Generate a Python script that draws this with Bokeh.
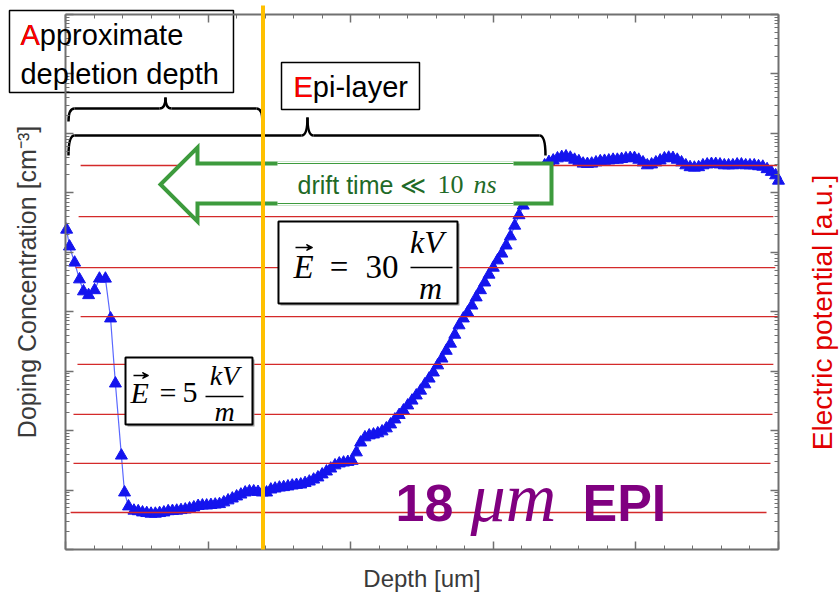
import math
from bokeh.plotting import figure
from bokeh.models import (Range1d, LinearAxis, LogAxis, FixedTicker, LinearScale,
                          CustomJSTickFormatter, Label, Arrow, VeeHead)
from bokeh.embed import file_html
from bokeh.resources import INLINE

# ---------------- data ----------------
depth_um = [0.04, 0.14, 0.32, 0.49, 0.63, 0.81, 1.02, 1.19, 1.40, 1.58, 1.75, 1.96, 2.07, 2.21,
            2.40, 2.55, 2.70, 2.85, 3.00, 3.15, 3.30, 3.45, 3.60, 3.75, 3.90, 4.05, 4.20, 4.35,
            4.50, 4.65, 4.80, 4.95, 5.10, 5.25, 5.40, 5.55, 5.70, 5.85, 6.00, 6.15, 6.30, 6.45,
            6.60, 6.75, 6.90, 7.05, 7.20, 7.35, 7.50, 7.65, 7.80, 7.95, 8.10, 8.25, 8.40, 8.55,
            8.70, 8.85, 9.00, 9.15, 9.30, 9.45, 9.60, 9.75, 9.90, 10.05, 10.20, 10.35, 10.50,
            10.65, 10.80, 10.95, 11.10, 11.25, 11.40, 11.55, 11.70, 11.85, 12.00, 12.15, 12.30,
            12.45, 12.60, 12.75, 12.90, 13.05, 13.20, 13.35, 13.50, 13.65, 13.80, 13.95, 14.10,
            14.25, 14.40, 14.55, 14.70, 14.85, 15.00, 15.15, 15.30, 15.45, 15.60, 15.75, 15.90,
            16.05, 16.20, 16.35, 16.50, 16.65, 16.80, 16.95, 17.10, 17.25, 17.40, 17.55, 17.70,
            17.85, 18.00, 18.15, 18.30, 18.45, 18.60, 18.75, 18.90, 19.05, 19.20, 19.35, 19.50,
            19.65, 19.80, 19.95, 20.10, 20.25, 20.40, 20.55, 20.70, 20.85, 21.00, 21.15, 21.30,
            21.45, 21.60, 21.75, 21.90, 22.05, 22.20, 22.35, 22.50, 22.65, 22.80, 22.95, 23.10,
            23.25, 23.40, 23.55, 23.70, 23.85, 24.00, 24.15, 24.30, 24.45, 24.60, 24.75, 24.90,
            25.00]
doping_cm3 = [2.4e17, 1.25e17, 6.7e16, 3.5e16, 2.2e16, 1.9e16, 2.3e16, 3.6e16, 3.6e16, 7.7e15,
              6.2e14, 3.8e13, 9.1e12, 5.3e12,
              4.5e12, 4.4e12, 4.2e12, 4.1e12, 4.0e12, 4.0e12, 4.1e12, 4.2e12, 4.4e12, 4.45e12,
              4.5e12, 4.6e12, 4.7e12, 4.9e12, 5.1e12, 5.4e12, 5.5e12, 5.5e12, 5.6e12, 5.7e12,
              5.8e12, 6.2e12, 6.7e12, 7.2e12, 7.8e12, 8.4e12, 9.1e12, 9.5e12, 9.5e12, 9.3e12,
              9.1e12, 9.1e12, 1.02e13, 1.06e13, 1.10e13, 1.12e13, 1.15e13, 1.19e13, 1.22e13,
              1.24e13, 1.31e13, 1.39e13, 1.50e13, 1.63e13, 1.83e13, 2.05e13, 2.30e13, 2.60e13,
              2.80e13, 2.90e13, 2.97e13, 3.10e13, 4.30e13, 6.30e13, 7.70e13, 8.30e13, 8.60e13,
              9.00e13, 9.70e13, 1.09e14, 1.27e14, 1.54e14, 1.83e14, 2.18e14, 2.65e14, 3.20e14,
              3.90e14, 4.70e14, 6.00e14, 7.50e14, 9.50e14, 1.25e15, 1.63e15, 2.20e15, 2.90e15,
              4.10e15, 5.90e15, 7.70e15, 9.70e15, 1.27e16, 1.74e16, 2.30e16, 3.10e16, 4.20e16,
              5.50e16, 7.30e16, 9.50e16, 1.30e17, 1.85e17, 2.80e17, 4.20e17, 6.10e17, 9.00e17,
              1.33e18, 1.81e18, 2.40e18, 2.90e18, 3.30e18, 3.50e18, 3.80e18, 4.00e18, 4.10e18,
              3.90e18, 3.60e18, 3.40e18, 3.10e18, 3.06e18, 3.10e18, 3.25e18, 3.40e18, 3.45e18,
              3.50e18, 3.60e18, 3.60e18, 3.70e18, 3.80e18, 3.85e18, 3.85e18, 3.60e18, 3.25e18,
              2.90e18, 3.00e18, 3.25e18, 3.50e18, 3.80e18, 3.90e18, 3.85e18, 3.60e18, 3.25e18,
              2.90e18, 2.70e18, 2.65e18, 2.70e18, 2.90e18, 3.00e18, 3.06e18, 3.06e18, 3.00e18,
              2.90e18, 2.90e18, 2.90e18, 3.00e18, 3.00e18, 2.90e18, 2.90e18, 2.90e18, 2.80e18,
              2.75e18, 2.50e18, 2.25e18, 1.97e18, 1.60e18]

# electric potential levels (a.u.) and the depth span of each red line
potential_au = [0.0, 0.99, 1.98, 2.99, 3.95, 4.94, 5.97, 7.0]
potential_x_start = [0.18, 0.28, 0.28, 0.42, 0.53, 0.35, 0.46, 0.53]
potential_x_end = [24.58, 24.72, 24.79, 24.82, 25.0, 24.89, 24.82, 24.96]

# axis extents / ticks
depth_bounds = (0, 25)
doping_bounds = (1e12, 1e21)
x_major_ticks = [0, 5, 10, 15, 20, 25]
x_minor_ticks = [i for i in range(26) if i % 5]
y_major_ticks = [10.0 ** k for k in range(12, 22)]
y_minor_ticks = [m * 10.0 ** k for k in range(12, 21) for m in range(2, 10)]

depletion_depth_um = 6.925
epi_end_um = 16.83

GRAY = "#707070"
LABEL_GRAY = "#3a3a3a"
GREEN = "#3d9b3d"
DARK_GREEN = "#1f6a28"
PURPLE = "#800080"

# ---------------- figure ----------------
# the frame covers the whole canvas; the axes sit at fixed data locations so that
# the annotation boxes outside the plotting box are not clipped
p = figure(width=839, height=592, x_range=Range1d(-2.279, 27.139),
           y_range=Range1d(1.891e11, 1.720e21),
           y_axis_type="log", output_backend="svg", toolbar_location=None,
           min_border_left=0, min_border_right=0, min_border_top=0, min_border_bottom=0,
           background_fill_color="white", border_fill_color="white",
           outline_line_color=None)
p.extra_y_ranges = {"pot": Range1d(-1.614, 10.329)}
p.extra_y_scales = {"pot": LinearScale()}
p.grid.visible = False

blank = CustomJSTickFormatter(code="return ''")
xt = FixedTicker(ticks=x_major_ticks, minor_ticks=x_minor_ticks)
yt = FixedTicker(ticks=y_major_ticks, minor_ticks=y_minor_ticks)


def style_axis(ax):
    ax.major_tick_in = 8
    ax.major_tick_out = 0
    ax.minor_tick_in = 4
    ax.minor_tick_out = 0
    ax.axis_line_color = GRAY
    ax.axis_line_width = 2
    ax.major_tick_line_color = GRAY
    ax.major_tick_line_width = 1.5
    ax.minor_tick_line_color = GRAY
    ax.minor_tick_line_width = 1
    ax.major_label_text_font_size = "0px"
    ax.major_label_standoff = 0
    ax.formatter = blank
    ax.axis_label_text_font = "Liberation Sans"
    ax.axis_label_text_font_style = "normal"


bottom = p.below[0]
bottom.ticker = xt
style_axis(bottom)
bottom.bounds = depth_bounds
bottom.fixed_location = doping_bounds[0]
bottom.axis_label = "Depth [um]"
bottom.axis_label_text_font_size = "24px"
bottom.axis_label_text_color = LABEL_GRAY
bottom.axis_label_standoff = 15

left = p.left[0]
left.ticker = yt
style_axis(left)
left.bounds = doping_bounds
left.fixed_location = depth_bounds[0]
left.axis_label = "Doping Concentration [cm\u207b\u00b3]"
left.axis_label_text_font_size = "25px"
left.axis_label_text_color = LABEL_GRAY
left.axis_label_standoff = 25

top = LinearAxis(ticker=xt, bounds=depth_bounds, fixed_location=doping_bounds[1])
style_axis(top)
p.add_layout(top, "above")

right = LogAxis(ticker=yt, bounds=doping_bounds, fixed_location=depth_bounds[1])
style_axis(right)
p.add_layout(right, "right")

# ---------------- doping profile ----------------
p.line(depth_um, doping_cm3, line_color="#5a68ff", line_width=1.2)
p.scatter(depth_um, doping_cm3, marker="triangle", size=12,
          fill_color="#1414ee", line_color="#1414ee")

# ---------------- electric potential lines ----------------
p.segment(x0=potential_x_start, y0=potential_au, x1=potential_x_end, y1=potential_au,
          y_range_name="pot", line_color="#d42a2a", line_width=1.3)


# ---------------- braces ----------------
def brace(x0, x1, xc, yb, yt_, yc, r):
    p.quadratic(x0=[x0, xc - r, xc, x1 - r], y0=[yt_, yb, yc, yb],
                x1=[x0 + r, xc, xc + r, x1], y1=[yb, yc, yb, yt_],
                cx=[x0, xc, xc, x1], cy=[yb, yb, yb, yb],
                y_range_name="pot", line_color="black", line_width=2.5)
    p.segment(x0=[x0 + r, xc + r], y0=[yb, yb], x1=[xc - r, x1 - r], y1=[yb, yb],
              y_range_name="pot", line_color="black", line_width=2.5)


brace(0.105, depletion_depth_um - 0.02, 3.506, 8.150, 7.888, 8.372, 0.21)
brace(0.105, epi_end_um, 8.485, 7.605, 7.202, 7.969, 0.21)

# ---------------- title boxes ----------------
p.quad(left=[-1.964, 7.574], right=[5.890, 12.412], top=[10.127, 9.078],
       bottom=[8.473, 8.130], y_range_name="pot",
       fill_color="white", line_color="black", line_width=1.5)

# ---------------- E-field boxes ----------------
for (l, r_, t, b) in [(2.104, 6.556, 3.127, 1.775), (7.468, 13.745, 5.870, 4.216)]:
    p.quad(left=l + 0.07, right=r_ + 0.07, top=t - 0.04, bottom=b - 0.04, y_range_name="pot",
           fill_color="#9a9a9a", line_color=None)
    p.quad(left=l, right=r_, top=t, bottom=b, y_range_name="pot",
           fill_color="white", line_color="black", line_width=2)
p.segment(x0=[4.909, 12.097], y0=[2.340, 4.943], x1=[6.241, 13.570], y1=[2.340, 4.943],
          y_range_name="pot", line_color="black", line_width=1.5)

# ---------------- drift arrow ----------------
p.patch(x=[3.331, 4.628, 4.628, 17.041, 17.041, 4.628, 4.628],
        y=[6.617, 7.363, 7.041, 7.041, 6.234, 6.234, 5.870],
        y_range_name="pot", fill_color="white", line_color=GREEN, line_width=4,
        line_join="miter")
p.quad(left=7.433, right=15.708, top=7.081, bottom=6.193, y_range_name="pot",
       fill_color="white", line_color=None)
p.segment(x0=[7.433, 7.433], y0=[7.041, 6.234], x1=[15.708, 15.708], y1=[7.041, 6.234],
          y_range_name="pot", line_color=GREEN, line_width=1.2)

# ---------------- orange depletion line ----------------
p.add_layout(Arrow(end=None, x_start=depletion_depth_um, y_start=10.23,
                   x_end=depletion_depth_um, y_end=-0.746, y_range_name="pot",
                   line_color="#FFC000", line_width=4))

# vector arrows over E
for (xs, xe, yy) in [(2.384, 2.910, 2.764), (8.065, 8.661, 5.346)]:
    p.add_layout(Arrow(end=VeeHead(size=6, line_color="black", line_width=1.2),
                       x_start=xs, y_start=yy, x_end=xe, y_end=yy, y_range_name="pot",
                       line_color="black", line_width=1.3))


# ---------------- texts ----------------
def lab(x, y, text, size, color="black", font="Liberation Serif", style="normal",
        align="left", baseline="alphabetic", **kw):
    lb = Label(x=x, y=y, y_range_name="pot", text=text, text_font=font,
               text_font_size=f"{size}px", text_font_style=style, text_color=color,
               text_align=align, text_baseline=baseline, **kw)
    p.add_layout(lb)
    return lb


# right-hand axis title
lab(26.56, 4.035, "Electric potential [a.u.]", 28, color="#e00000", font="Liberation Sans",
    align="center", baseline="middle", angle=math.pi / 2)

lab(-1.578, 9.946, "Approximate\ndepletion depth", 29, font="Liberation Sans",
    baseline="top", text_line_height=1.2)
lab(-1.578, 9.946, "A", 29, color="#ff0000", font="Liberation Sans", baseline="top")
lab(7.994, 8.907, "Epi-layer", 29, font="Liberation Sans", baseline="top")
lab(7.994, 8.907, "E", 29, color="#ff0000", font="Liberation Sans", baseline="top")

# E = 5 kV/m
lab(2.279, 2.419, "E", 30, style="italic")
lab(3.594, 2.419, "=", 30, align="center")
lab(4.102, 2.419, "5", 30)
lab(5.575, 2.768, "kV", 28, style="italic", align="center")
lab(5.575, 2.042, "m", 28, style="italic", align="center")

# E = 30 kV/m
lab(7.994, 4.961, "E", 33, style="italic")
lab(9.590, 4.961, "=", 33, align="center")
lab(10.519, 4.961, "30", 33)
lab(12.675, 5.458, "kV", 32, style="italic", align="center")
lab(12.798, 4.530, "m", 32, style="italic", align="center")

# drift time
lab(8.135, 6.601, "drift time \u226a", 25, color=DARK_GREEN, font="Liberation Sans")
lab(13.043, 6.608, "10", 26, color=DARK_GREEN)
lab(14.306, 6.608, "ns", 26, color=DARK_GREEN, style="italic")

# 18 um EPI
lab(11.571, 0.185, "18", 52, color=PURPLE, font="Liberation Sans", style="bold")
lab(14.201, 0.305, "\u03bcm", 70, color=PURPLE, style="italic")
lab(18.128, 0.185, "EPI", 52, color=PURPLE, font="Liberation Sans", style="bold")

open("out.html", "w").write(file_html(p, INLINE))
